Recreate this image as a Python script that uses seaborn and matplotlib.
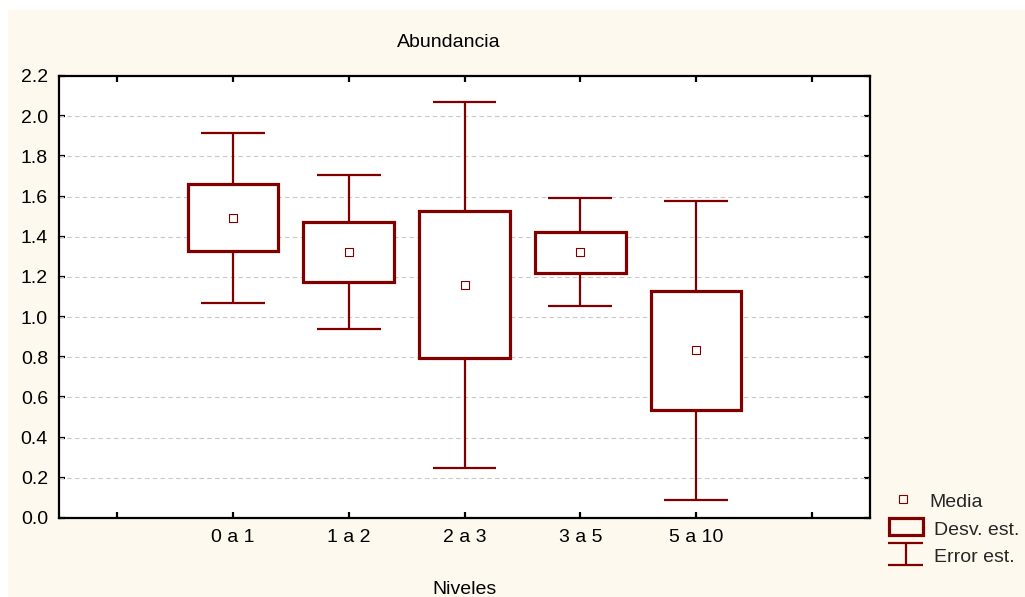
import matplotlib
matplotlib.use("Agg")
import matplotlib.pyplot as plt
from matplotlib.patches import Rectangle
from matplotlib.lines import Line2D
import seaborn as sns
import pandas as pd

# Abundance by level: mean, box half-height (std. dev.) and whisker half-height (std. err.)
niveles = ["0 a 1", "1 a 2", "2 a 3", "3 a 5", "5 a 10"]
media = [1.495, 1.325, 1.160, 1.323, 0.834]
desv_est = [0.167, 0.150, 0.366, 0.103, 0.297]
error_est = [0.423, 0.382, 0.913, 0.269, 0.744]
y_ticks = [0.0, 0.2, 0.4, 0.6, 0.8, 1.0, 1.2, 1.4, 1.6, 1.8, 2.0, 2.2]

MAROON = "#800000"
CREAM = "#fdf9ee"
W, H = 1025, 597
FS = 14

sns.set_style("ticks")
plt.rcParams["font.family"] = ["Liberation Sans", "DejaVu Sans"]
plt.rcParams["font.size"] = FS

fig = plt.figure(figsize=(W / 100, H / 100), dpi=100, facecolor="white")
# cream panel behind everything, leaving a thin white margin at top and left
fig.patches.append(Rectangle((8 / W, 0), 1 - 8 / W, 1 - 10 / H,
                             transform=fig.transFigure, facecolor=CREAM,
                             edgecolor="none", zorder=-10))

ax = fig.add_axes([59 / W, 1 - 518 / H, (870 - 59) / W, (518 - 76) / H])
ax.set_zorder(1)
ax.set_facecolor("white")

df = pd.DataFrame({"Niveles": niveles, "Media": media})

box_w = 0.78
cap_w = 0.55
for i, (m, sd, se) in enumerate(zip(media, desv_est, error_est)):
    # whiskers and caps
    ax.plot([i, i], [m - se, m + se], color=MAROON, lw=1.6, zorder=2,
            solid_capstyle="butt")
    ax.plot([i - cap_w / 2, i + cap_w / 2], [m + se, m + se], color=MAROON,
            lw=1.6, zorder=2, solid_capstyle="butt")
    ax.plot([i - cap_w / 2, i + cap_w / 2], [m - se, m - se], color=MAROON,
            lw=1.6, zorder=2, solid_capstyle="butt")
    # box
    ax.add_patch(Rectangle((i - box_w / 2, m - sd), box_w, 2 * sd,
                           facecolor="white", edgecolor=MAROON, lw=2.3,
                           zorder=3))

sns.scatterplot(data=df, x="Niveles", y="Media", marker="s", s=30,
                facecolor="white", edgecolor=MAROON, linewidth=0.8,
                zorder=4, ax=ax, legend=False)

ax.set_xlim(-1.5, 5.5)
ax.set_ylim(0, 2.2)
ax.set_xticks(range(-1, 6))
ax.set_xticklabels([""] + niveles + [""])
ax.set_yticks(y_ticks)
ax.set_yticklabels([f"{v:.1f}" for v in y_ticks])
ax.set_xlabel("")
ax.set_ylabel("")

for y in y_ticks[1:-1]:
    ax.axhline(y, color="#c8c8c8", lw=0.8, ls=(0, (4, 3)), zorder=1)

for sp in ax.spines.values():
    sp.set_visible(True)
    sp.set_color("black")
    sp.set_linewidth(1.6)
    sp.set_zorder(5)

ax.tick_params(axis="both", which="major", direction="in", length=4,
               width=1.6, color="black", top=True, right=True,
               labelsize=FS, labelcolor="black")
ax.tick_params(axis="x", pad=8)
ax.tick_params(axis="y", pad=8)

def fx(x):
    return x / W

def fy(y):
    return 1 - y / H

fig.text(fx(449), fy(47), "Abundancia", ha="center", va="baseline",
         fontsize=FS, color="black")
fig.text(fx(465), fy(594), "Niveles", ha="center", va="baseline",
         fontsize=FS, color="black")

# legend drawn in figure pixels
fig.add_artist(Line2D([fx(903)], [fy(499)], marker="s", markersize=5.5,
                      markerfacecolor=CREAM, markeredgecolor=MAROON,
                      markeredgewidth=0.8, linestyle="none",
                      transform=fig.transFigure))
fig.text(fx(929), fy(507), "Media", ha="left", va="baseline", fontsize=FS)

fig.add_artist(Rectangle((fx(889), fy(535)), (923 - 889) / W, (535 - 518) / H,
                         facecolor=CREAM, edgecolor=MAROON, lw=2.3,
                         transform=fig.transFigure))
fig.text(fx(934), fy(535), "Desv. est.", ha="left", va="baseline",
         fontsize=FS)

for yy in (543, 565):
    fig.add_artist(Line2D([fx(888), fx(923)], [fy(yy), fy(yy)], color=MAROON,
                          lw=1.6, solid_capstyle="butt",
                          transform=fig.transFigure))
fig.add_artist(Line2D([fx(905.5), fx(905.5)], [fy(543), fy(565)],
                      color=MAROON, lw=1.6, transform=fig.transFigure))
fig.text(fx(934), fy(562), "Error est.", ha="left", va="baseline",
         fontsize=FS)

fig.savefig("out.png", dpi=100, facecolor=fig.get_facecolor())
